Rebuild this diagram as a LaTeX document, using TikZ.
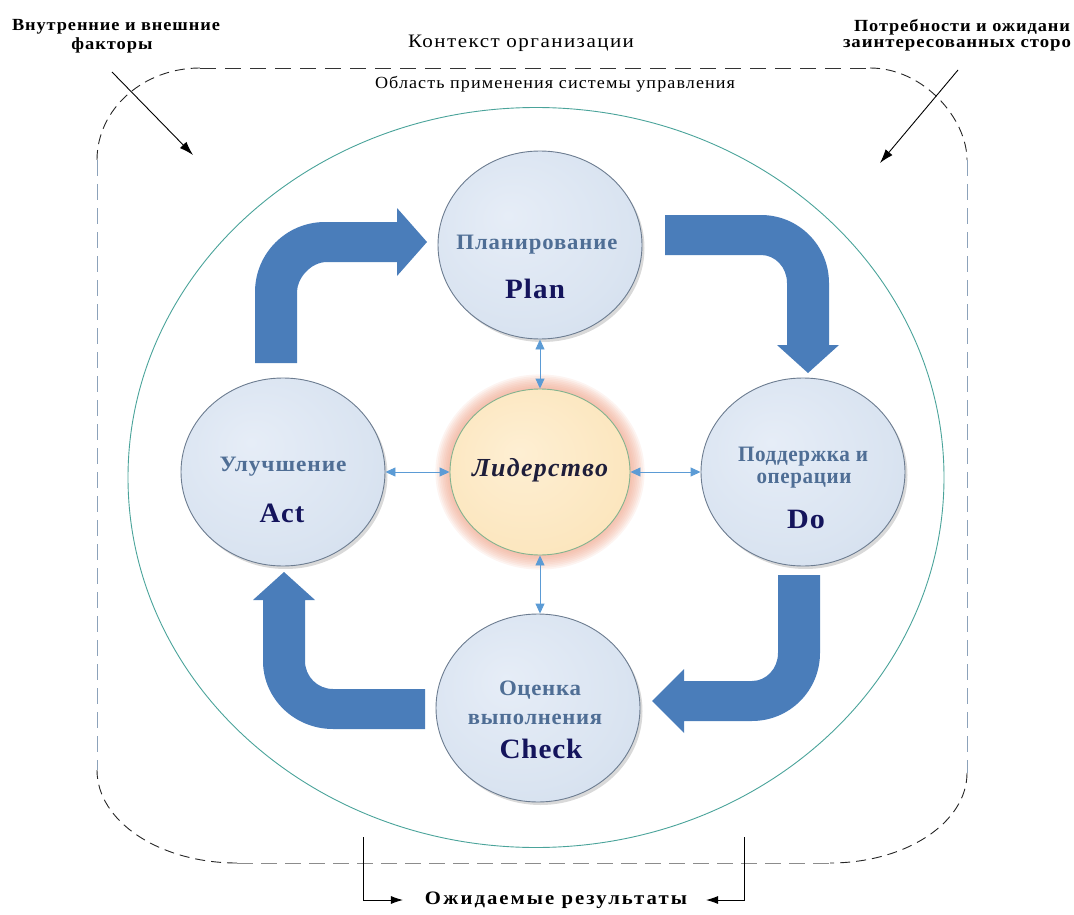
\documentclass[tikz,border=0pt]{standalone}
\usepackage{fontspec}
\setmainfont{Liberation Serif}
\usepackage{graphicx}
\usetikzlibrary{shapes.geometric,arrows.meta,shadows}

\definecolor{bub1}{HTML}{E6EDF7}
\definecolor{bub2}{HTML}{DAE4F1}
\definecolor{bub3}{HTML}{C9D7E9}
\definecolor{lid1}{HTML}{FEEFD3}
\definecolor{lid2}{HTML}{FADFAE}
\definecolor{glowc}{HTML}{EE9E82}
\definecolor{cborder}{HTML}{6C7C90}
\definecolor{lidborder}{HTML}{84B38F}
\definecolor{ruslbl}{HTML}{4F6E95}
\definecolor{englbl}{HTML}{14145C}
\definecolor{lidtext}{HTML}{1E1E3A}
\definecolor{bigarr}{HTML}{4A7DBA}
\definecolor{dblarr}{HTML}{5B9BD5}
\definecolor{tealc}{HTML}{4AA39A}
\definecolor{sidec}{HTML}{8CA2BA}

\pgfdeclareradialshading{bubble}{\pgfpoint{-8bp}{8bp}}{color(0bp)=(bub1); color(25bp)=(bub2); color(50bp)=(bub3)}
\pgfdeclareradialshading{lidshade}{\pgfpoint{-6bp}{6bp}}{color(0bp)=(lid1); color(50bp)=(lid2)}

\newcommand{\fw}[2]{\resizebox{#1pt}{\height}{#2}}

\tikzset{
  lbl/.style={inner sep=0pt, outer sep=0pt},
  cyc/.style={ellipse, minimum width=204, minimum height=188, inner sep=0pt,
    draw=cborder, line width=0.9pt, shading=bubble,
    drop shadow={opacity=0.3, shadow xshift=2.5pt, shadow yshift=-3pt}},
  ruf/.style={lbl, text=ruslbl, font=\bfseries\fontsize{22}{25}\selectfont},
  enf/.style={lbl, text=englbl, font=\bfseries\fontsize{28}{32}\selectfont},
  bigarrow/.style={fill=bigarr},
  dbl/.style={draw=dblarr, line width=0.9pt, {Triangle[length=10pt,width=9pt]}-{Triangle[length=10pt,width=9pt]}},
  blk/.style={draw=black, line width=0.9pt, -{Latex[length=14pt,width=9pt]}},
  brk/.style={draw=black, line width=0.9pt, -{Latex[length=12pt,width=8pt]}},
}

\begin{document}
\begin{tikzpicture}[x=1pt,y=-1pt]
\useasboundingbox (0,0) rectangle (1074,915);

% outer dashed frame (context of organisation)
\draw[black!80, line width=0.9pt, dash pattern=on 16pt off 9pt] (200,68) -- (870,68);
\draw[black!85, line width=0.9pt, dash pattern=on 10pt off 6pt]
  (97,160) .. controls (97,109.2) and (143.1,68) .. (200,68);
\draw[black!85, line width=0.9pt, dash pattern=on 10pt off 6pt]
  (870,68) .. controls (923.6,68) and (967,118.8) .. (967,160);
\draw[black!85, line width=0.9pt, dash pattern=on 10pt off 6pt]
  (967,773) .. controls (967,822.7) and (905.7,863) .. (830,863);
\draw[black!85, line width=0.9pt, dash pattern=on 10pt off 6pt]
  (237,863) .. controls (159.7,863) and (97,821.4) .. (97,770);
\draw[sidec, line width=0.9pt, dash pattern=on 16pt off 8pt] (97,160) -- (97,770);
\draw[sidec, line width=0.9pt, dash pattern=on 16pt off 8pt] (967,160) -- (967,773);
\draw[black!45, line width=0.9pt, dash pattern=on 16pt off 8pt] (237,863) -- (830,863);

% scope ellipse
\draw[tealc, line width=0.9pt] (536,477.5) ellipse [x radius=408, y radius=370];

% top texts
\node[lbl, font=\bfseries\fontsize{17}{19}\selectfont] (inA) at (116,27) {\fw{208}{\addfontfeature{LetterSpace=5}Внутренние и внешние}};
\node[lbl, font=\bfseries\fontsize{17}{19}\selectfont] (inB) at (112,45) {\fw{81}{\addfontfeature{LetterSpace=5}факторы}};
\node[lbl, font=\fontsize{19}{21}\selectfont] (ctx) at (521,43) {\fw{226}{\addfontfeature{LetterSpace=7}Контекст организации}};
\node[lbl, anchor=west, font=\bfseries\fontsize{17}{19}\selectfont] (needA) at (854,27) {\fw{216}{\addfontfeature{LetterSpace=5}Потребности и ожидани}};
\node[lbl, anchor=west, font=\bfseries\fontsize{17}{19}\selectfont] (needB) at (843,45) {\fw{228}{\addfontfeature{LetterSpace=5}заинтересованных сторо}};
\node[lbl, font=\fontsize{17}{19}\selectfont] (scope) at (555,84) {\fw{360}{\addfontfeature{LetterSpace=6}Область применения системы управления}};

% external arrows
\coordinate (tlA) at (112,72);
\coordinate (tlB) at (193,155);
\coordinate (trA) at (958,70);
\coordinate (trB) at (880,163);
\draw[blk] (tlA) -- (tlB);
\draw[blk] (trA) -- (trB);

% big cycle arrows
% Act -> Plan
\fill[bigarrow] (255,363) -- (255,292) .. controls (255,253.3) and (286.3,222) .. (325,222)
  -- (397,222) -- (397,208) -- (427,242) -- (397,276) -- (397,262) -- (327,262)
  .. controls (310.4,262) and (297,278.6) .. (297,292) -- (297,363) -- cycle;
% Plan -> Do
\fill[bigarrow] (665,215) -- (761,215) .. controls (798.6,215) and (829,245.4) .. (829,283)
  -- (829,345) -- (839,345) -- (808,373) -- (777,345) -- (787,345) -- (787,283)
  .. controls (787,267.5) and (775.4,255) .. (761,255) -- (665,255) -- cycle;
% Do -> Check
\fill[bigarrow] (778,575) -- (820,575) -- (820,653) .. controls (820,690.6) and (789.6,721) .. (752,721)
  -- (684,721) -- (684,733) -- (652,701) -- (684,669) -- (684,681) -- (752,681)
  .. controls (766.4,681) and (778,668.5) .. (778,653) -- cycle;
% Check -> Act
\fill[bigarrow] (425,689) -- (333,689) .. controls (317.5,689) and (305,676.5) .. (305,661)
  -- (305,600) -- (315,600) -- (284,572) -- (253,600) -- (263,600) -- (263,661)
  .. controls (263,698.6) and (294.3,729) .. (333,729) -- (425,729) -- cycle;

% circles
\node[cyc] (plan) at (540,245) {};
\node[cyc] (act) at (283,472) {};
\node[cyc] (do) at (803,472) {};
\node[cyc] (check) at (538,708) {};
% soft glow round the leadership circle
\foreach \k in {0,...,8}
  \fill[glowc, opacity=0.11] (540,472) ellipse [x radius={90+1.7*\k+1}, y radius={83+1.7*\k+1}];
\node[ellipse, minimum width=180, minimum height=166, inner sep=0pt, draw=lidborder, line width=0.9pt, shading=lidshade] (lider) at (540,472) {};

% double arrows
\draw[dbl] (plan.south) -- (lider.north);
\draw[dbl] (act.east) -- (lider.west);
\draw[dbl] (lider.east) -- (do.west);
\draw[dbl] (lider.south) -- (lider.south |- check.north);

% circle labels
\node[ruf] (planR) at (537,245) {\fw{161}{\addfontfeature{LetterSpace=4}Планирование}};
\node[enf] (planE) at (535,289) {\fw{60}{\addfontfeature{LetterSpace=4}Plan}};
\node[ruf] (actR) at (283,467) {\fw{127}{\addfontfeature{LetterSpace=4}Улучшение}};
\node[enf] (actE) at (282,513) {\fw{45}{\addfontfeature{LetterSpace=4}Act}};
\node[ruf] (doR1) at (803,457) {\fw{130}{\addfontfeature{LetterSpace=3}Поддержка и}};
\node[ruf] (doR2) at (804,481) {\fw{95}{\addfontfeature{LetterSpace=3}операции}};
\node[enf] (doE) at (806,519) {\fw{38}{\addfontfeature{LetterSpace=4}Do}};
\node[ruf] (chR1) at (540,690) {\fw{82}{\addfontfeature{LetterSpace=3}Оценка}};
\node[ruf] (chR2) at (535,719) {\fw{134}{\addfontfeature{LetterSpace=3}выполнения}};
\node[enf] (chE) at (541,749) {\fw{83}{\addfontfeature{LetterSpace=3}Check}};
\node[lbl, text=lidtext, font=\bfseries\itshape\fontsize{26}{30}\selectfont] (lidT) at (540,470) {\fw{136}{\addfontfeature{LetterSpace=5}Лидерство}};

% expected results
\node[lbl, font=\bfseries\fontsize{19}{21}\selectfont] (res) at (556,900) {\fw{262}{\addfontfeature{LetterSpace=10}Ожидаемые результаты}};
\coordinate (bl1) at (363,837);
\coordinate (br1) at (744,837);
\draw[brk] (bl1) |- ([xshift=-22pt]res.west);
\draw[brk] (br1) |- ([xshift=19pt]res.east);
\end{tikzpicture}
\end{document}
